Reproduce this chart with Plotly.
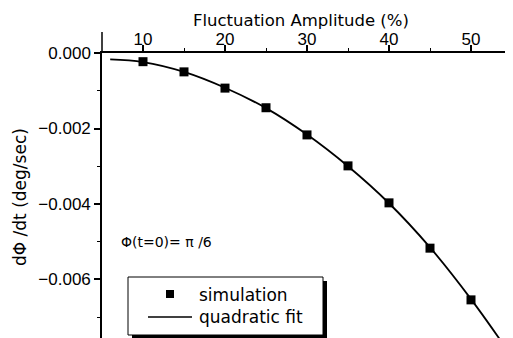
import plotly.graph_objects as go

# Simulation points
amp_sim = [10, 15, 20, 25, 30, 35, 40, 45, 50]
rate_sim = [-0.00023, -0.00050, -0.00093, -0.00145, -0.00217, -0.00299, -0.00397, -0.00517, -0.00654]

# Quadratic fit curve
amp_fit = [6, 10, 15, 20, 25, 30, 35, 40, 45, 50, 55]
rate_fit = [-0.00017, -0.00024, -0.00050, -0.00092, -0.00146, -0.00216, -0.00300, -0.00398, -0.00515, -0.00652, -0.00805]

x_ticks = [10, 20, 30, 40, 50]
y_ticks = [0.0, -0.002, -0.004, -0.006]
y_tick_text = ["0.000", "\u22120.002", "\u22120.004", "\u22120.006"]

FONT = "DejaVu Sans"
TICKFONT = "Liberation Sans"
OFF = 8  # page body margin
W, H = 513, 338
L, R, T, B = 94, 9, 45, 8
PW, PH = W - L - R, H - T - B


def px(xp):
    return (xp - OFF - L) / PW


def py(yp):
    return (H - B - (yp - OFF)) / PH


fig = go.Figure()
fig.add_trace(go.Scatter(
    x=amp_fit, y=rate_fit, mode="lines", name="quadratic fit",
    line=dict(color="black", width=1.8, shape="spline"), showlegend=False))
fig.add_trace(go.Scatter(
    x=amp_sim, y=rate_sim, mode="markers", name="simulation",
    marker=dict(symbol="square", size=9, color="black"), showlegend=False))

fig.update_layout(
    width=W, height=H,
    margin=dict(l=L, r=R, t=T, b=B),
    paper_bgcolor="white", plot_bgcolor="white",
    font=dict(family=FONT, size=14, color="black"),
    xaxis=dict(
        range=[5, 55], side="top", showgrid=False, zeroline=False,
        automargin=False,
        showline=True, linecolor="black", linewidth=1.5,
        tickmode="array", tickvals=x_ticks, ticks="outside", ticklen=6,
        tickwidth=1.5, tickcolor="black", ticklabelstandoff=-7,
        tickfont=dict(family=TICKFONT, size=17),
        minor=dict(tickvals=[15, 25, 35, 45, 55], ticks="outside", ticklen=3,
                   tickcolor="black", tickwidth=1.2),
    ),
    yaxis=dict(
        range=[-0.00755, 0], showgrid=False, zeroline=False,
        automargin=False,
        showline=True, linecolor="black", linewidth=1.5,
        tickmode="array", tickvals=y_ticks, ticktext=y_tick_text,
        ticks="outside", ticklen=6, tickwidth=1.5, tickcolor="black",
        tickfont=dict(family=TICKFONT, size=17),
        minor=dict(tickvals=[-0.001, -0.003, -0.005, -0.007], ticks="outside",
                   ticklen=3, tickcolor="black", tickwidth=1.2),
    ),
)

shapes = []
# upward extension of the left axis
shapes.append(dict(type="line", xref="paper", yref="paper", x0=0, x1=0,
                   y0=1, y1=py(32), line=dict(color="black", width=1.5)))
# legend shadow and box
shapes.append(dict(type="rect", xref="paper", yref="paper",
                   x0=px(132), x1=px(327), y0=py(340), y1=py(281),
                   fillcolor="black", line=dict(width=0)))
shapes.append(dict(type="rect", xref="paper", yref="paper",
                   x0=px(128), x1=px(323), y0=py(335), y1=py(277),
                   fillcolor="white", line=dict(color="black", width=1)))
# legend symbols
shapes.append(dict(type="rect", xref="paper", yref="paper",
                   x0=px(166), x1=px(174), y0=py(298), y1=py(290),
                   fillcolor="black", line=dict(width=0)))
shapes.append(dict(type="line", xref="paper", yref="paper",
                   x0=px(148), x1=px(192), y0=py(317), y1=py(317),
                   line=dict(color="black", width=1.3)))
fig.update_layout(shapes=shapes)

annotations = [
    dict(text="Fluctuation Amplitude (%)", xref="paper", yref="paper",
         x=px(301), y=py(20), showarrow=False, font=dict(size=16.5),
         xanchor="center", yanchor="middle"),
    dict(text="d\u03a6 /dt (deg/sec)", xref="paper", yref="paper",
         x=px(20), y=py(197), showarrow=False, textangle=-90,
         font=dict(size=17), xanchor="center", yanchor="middle"),
    dict(text="\u03a6(t=0)= \u03c0 /6", xref="paper", yref="paper",
         x=px(119), y=py(242), showarrow=False, font=dict(size=14),
         xanchor="left", yanchor="middle"),
    dict(text="simulation", xref="paper", yref="paper",
         x=px(197), y=py(295), showarrow=False, font=dict(size=17),
         xanchor="left", yanchor="middle"),
    dict(text="quadratic fit", xref="paper", yref="paper",
         x=px(197), y=py(317), showarrow=False, font=dict(size=17),
         xanchor="left", yanchor="middle"),
]
fig.update_layout(annotations=annotations)

fig.write_html("out.html")
